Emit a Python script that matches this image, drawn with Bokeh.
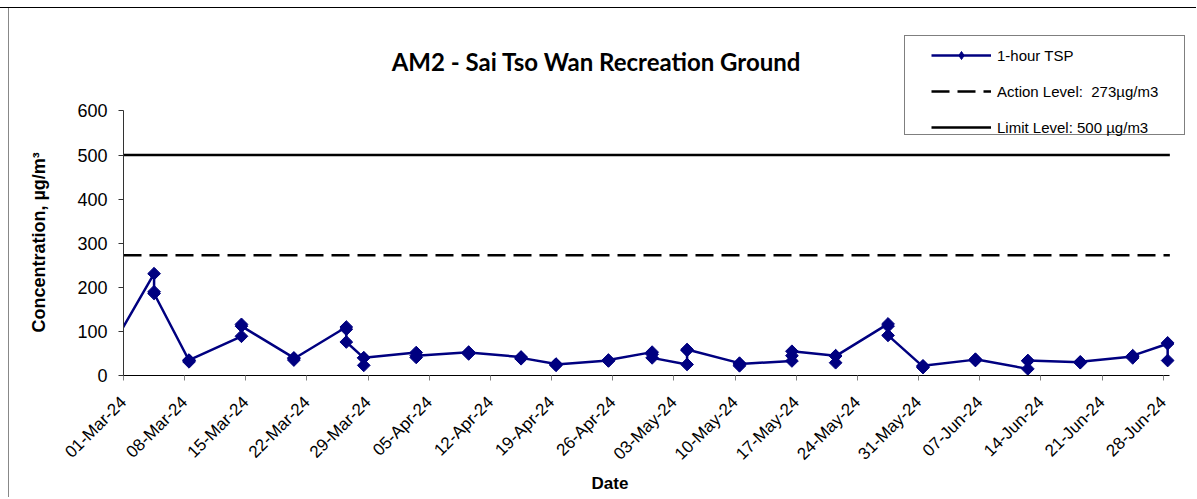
from math import pi
from datetime import datetime, timezone
import pandas as pd
from bokeh.plotting import figure
from bokeh.models import (Range1d, FixedTicker, CustomJSTickFormatter, Legend,
                          LegendItem, Title, Label)
from bokeh.embed import file_html
from bokeh.resources import INLINE

# ---------------- data ----------------
title_text = "AM2 - Sai Tso Wan Recreation Ground"
y_label = "Concentration, µg/m³"
x_label = "Date"

sample_dates = ["2024-02-27 12:00", "2024-03-04 12:00", "2024-03-08 12:00", "2024-03-14 12:00",
                "2024-03-20 12:00", "2024-03-26 12:00", "2024-03-28 12:00", "2024-04-03 12:00",
                "2024-04-09 12:00", "2024-04-15 12:00", "2024-04-19 12:00", "2024-04-25 12:00",
                "2024-04-30 12:00", "2024-05-04 12:00", "2024-05-10 12:00", "2024-05-16 12:00",
                "2024-05-21 12:00", "2024-05-27 12:00", "2024-05-31 12:00", "2024-06-06 12:00",
                "2024-06-12 12:00", "2024-06-18 12:00", "2024-06-24 12:00", "2024-06-28 12:00"]
tsp_1st = [22, 231, 34, 89, 40, 110, 40, 52, 53, 42, 26, 34, 53, 25, 28, 33, 45, 117, 20, 36, 15, 30, 43, 72]
tsp_2nd = [28, 190, 31, 116, 35, 105, 23, 41, 49, 38, 23, 33, 48, 57, 22, 45, 29, 112, 18, 34, 33, 29, 40, 74]
tsp_3rd = [25, 186, 35, 112, 38, 76, 40, 45, 52, 40, 25, 35, 40, 59, 26, 55, 44, 91, 22, 37, 34, 31, 45, 34]

action_level = 273
limit_level = 500
legend_labels = ["1-hour TSP", "Action Level:  273µg/m3", "Limit Level: 500 µg/m3"]

tick_labels = ["01-Mar-24", "08-Mar-24", "15-Mar-24", "22-Mar-24", "29-Mar-24", "05-Apr-24",
               "12-Apr-24", "19-Apr-24", "26-Apr-24", "03-May-24", "10-May-24", "17-May-24",
               "24-May-24", "31-May-24", "07-Jun-24", "14-Jun-24", "21-Jun-24", "28-Jun-24"]
y_ticks = [0, 100, 200, 300, 400, 500, 600]

x_start = pd.Timestamp("2024-03-01 00:00")   # axis start
x_axis_end = pd.Timestamp("2024-06-28 18:00")  # axis end
x_frame_end = pd.Timestamp("2024-07-01 05:30")  # room for the legend inside the frame
y_axis_top = 600
y_frame_top = 803

# ---------------- derived ----------------
dt = pd.to_datetime(sample_dates)
xs = [d for d in dt for _ in range(3)]
ys = [v for trip in zip(tsp_1st, tsp_2nd, tsp_3rd) for v in trip]
tick_ms = [datetime.strptime(l, "%d-%b-%y").replace(tzinfo=timezone.utc).timestamp() * 1000.0
           for l in tick_labels]

NAVY = "#000080"
FONT = "Liberation Sans"

p = figure(width=1196, height=490, x_axis_type="datetime",
           x_range=Range1d(x_start, x_frame_end), y_range=Range1d(0, y_frame_top),
           output_backend="svg", toolbar_location=None,
           min_border_left=123, min_border_right=5, min_border_top=13, min_border_bottom=123)
# outer chart box: top rule and a left rule at x=8 drawn behind the transparent border area
p.styles = {"margin-top": "7px", "border-top": "1px solid #000000",
            "background": "linear-gradient(to right, #ffffff 8px, #888888 8px, #888888 9px, #ffffff 9px)"}
p.outline_line_color = None
p.xgrid.visible = False
p.ygrid.visible = False
p.background_fill_color = "white"
p.border_fill_alpha = 0.0
p.title.visible = False

r_limit = p.line([x_start, x_axis_end], [limit_level, limit_level], line_color="black", line_width=2.5)
r_action = p.line([x_start, x_axis_end], [action_level, action_level], line_color="black",
                  line_width=2.5, line_dash="18 8")
r_tsp_line = p.line(xs, ys, line_color=NAVY, line_width=2.5)
r_tsp_pts = p.scatter(xs, ys, marker="square", angle=pi / 4, size=9,
                      fill_color=NAVY, line_color=NAVY)
# legend key marker: same first sample (outside the visible axis), drawn as an upright diamond
r_key_marker = p.scatter(x=xs[:1], y=ys[:1], marker="diamond", size=9,
                         fill_color=NAVY, line_color=NAVY)
r_dummy = p.line([x_start, x_start], [0, 0], line_alpha=0)

# legend frame
box_legend = Legend(items=[LegendItem(label=" ", renderers=[r_dummy])], location=(781, 240),
                    padding=0, margin=0, spacing=0, glyph_width=200, glyph_height=98,
                    label_height=98, label_width=79, label_standoff=0, label_text_alpha=0,
                    border_line_color="black", border_line_width=1,
                    background_fill_color="white", background_fill_alpha=1.0)
item_legend = Legend(items=[LegendItem(label=legend_labels[0], renderers=[r_tsp_line, r_key_marker]),
                            LegendItem(label=legend_labels[1], renderers=[r_action]),
                            LegendItem(label=legend_labels[2], renderers=[r_limit])],
                     location=(808, 238), padding=0, margin=0, spacing=16,
                     glyph_width=60, glyph_height=20, label_height=20, label_standoff=6,
                     label_text_font=FONT, label_text_font_size="15px", label_text_color="black",
                     border_line_color=None, background_fill_alpha=0.0)
p.add_layout(box_legend)
p.add_layout(item_legend)

# chart title inside the (tall) frame, in frame-relative screen units
p.add_layout(Label(x=473, y=314, x_units="screen", y_units="screen", text=title_text,
                   text_align="center", text_baseline="alphabetic", text_font="Lato",
                   text_font_size="24px", text_font_style="bold", text_color="black"))

# axes
xa = p.xaxis[0]
xa.bounds = (x_start, x_axis_end)
xa.ticker = FixedTicker(ticks=tick_ms)
xa.formatter = CustomJSTickFormatter(args=dict(pos=tick_ms, labels=tick_labels), code="""
let best = 0, bd = Infinity;
for (let i = 0; i < pos.length; i++) { const d = Math.abs(pos[i] - tick); if (d < bd) { bd = d; best = i; } }
return labels[best];
""")
xa.major_label_orientation = pi / 4
xa.major_label_text_font = FONT
xa.major_label_text_font_size = "17px"
xa.major_label_text_color = "black"
xa.major_label_standoff = 19
xa.major_tick_out = 5
xa.major_tick_in = 0
xa.minor_tick_line_color = None
xa.axis_line_color = "black"
xa.major_tick_line_color = "#808080"

ya = p.yaxis[0]
ya.bounds = (0, y_axis_top)
ya.ticker = FixedTicker(ticks=y_ticks)
ya.major_label_text_font = FONT
ya.major_label_text_font_size = "18px"
ya.major_label_text_color = "black"
ya.major_label_standoff = 11
ya.major_tick_out = 5
ya.major_tick_in = 0
ya.minor_tick_line_color = None
ya.axis_line_color = "#333333"
ya.major_tick_line_color = "#333333"

# y-axis title, placed along the 0-600 part of the axis
p.add_layout(Title(text=y_label, align="left", offset=43, text_font=FONT,
                   text_font_size="18px", text_font_style="bold", text_color="black",
                   standoff=52), "left")

p.add_layout(Title(text=x_label, align="left", offset=468, text_font=FONT,
                   text_font_size="17px", text_font_style="bold", text_color="black",
                   standoff=-3), "below")

open("out.html", "w").write(file_html(p, INLINE))
